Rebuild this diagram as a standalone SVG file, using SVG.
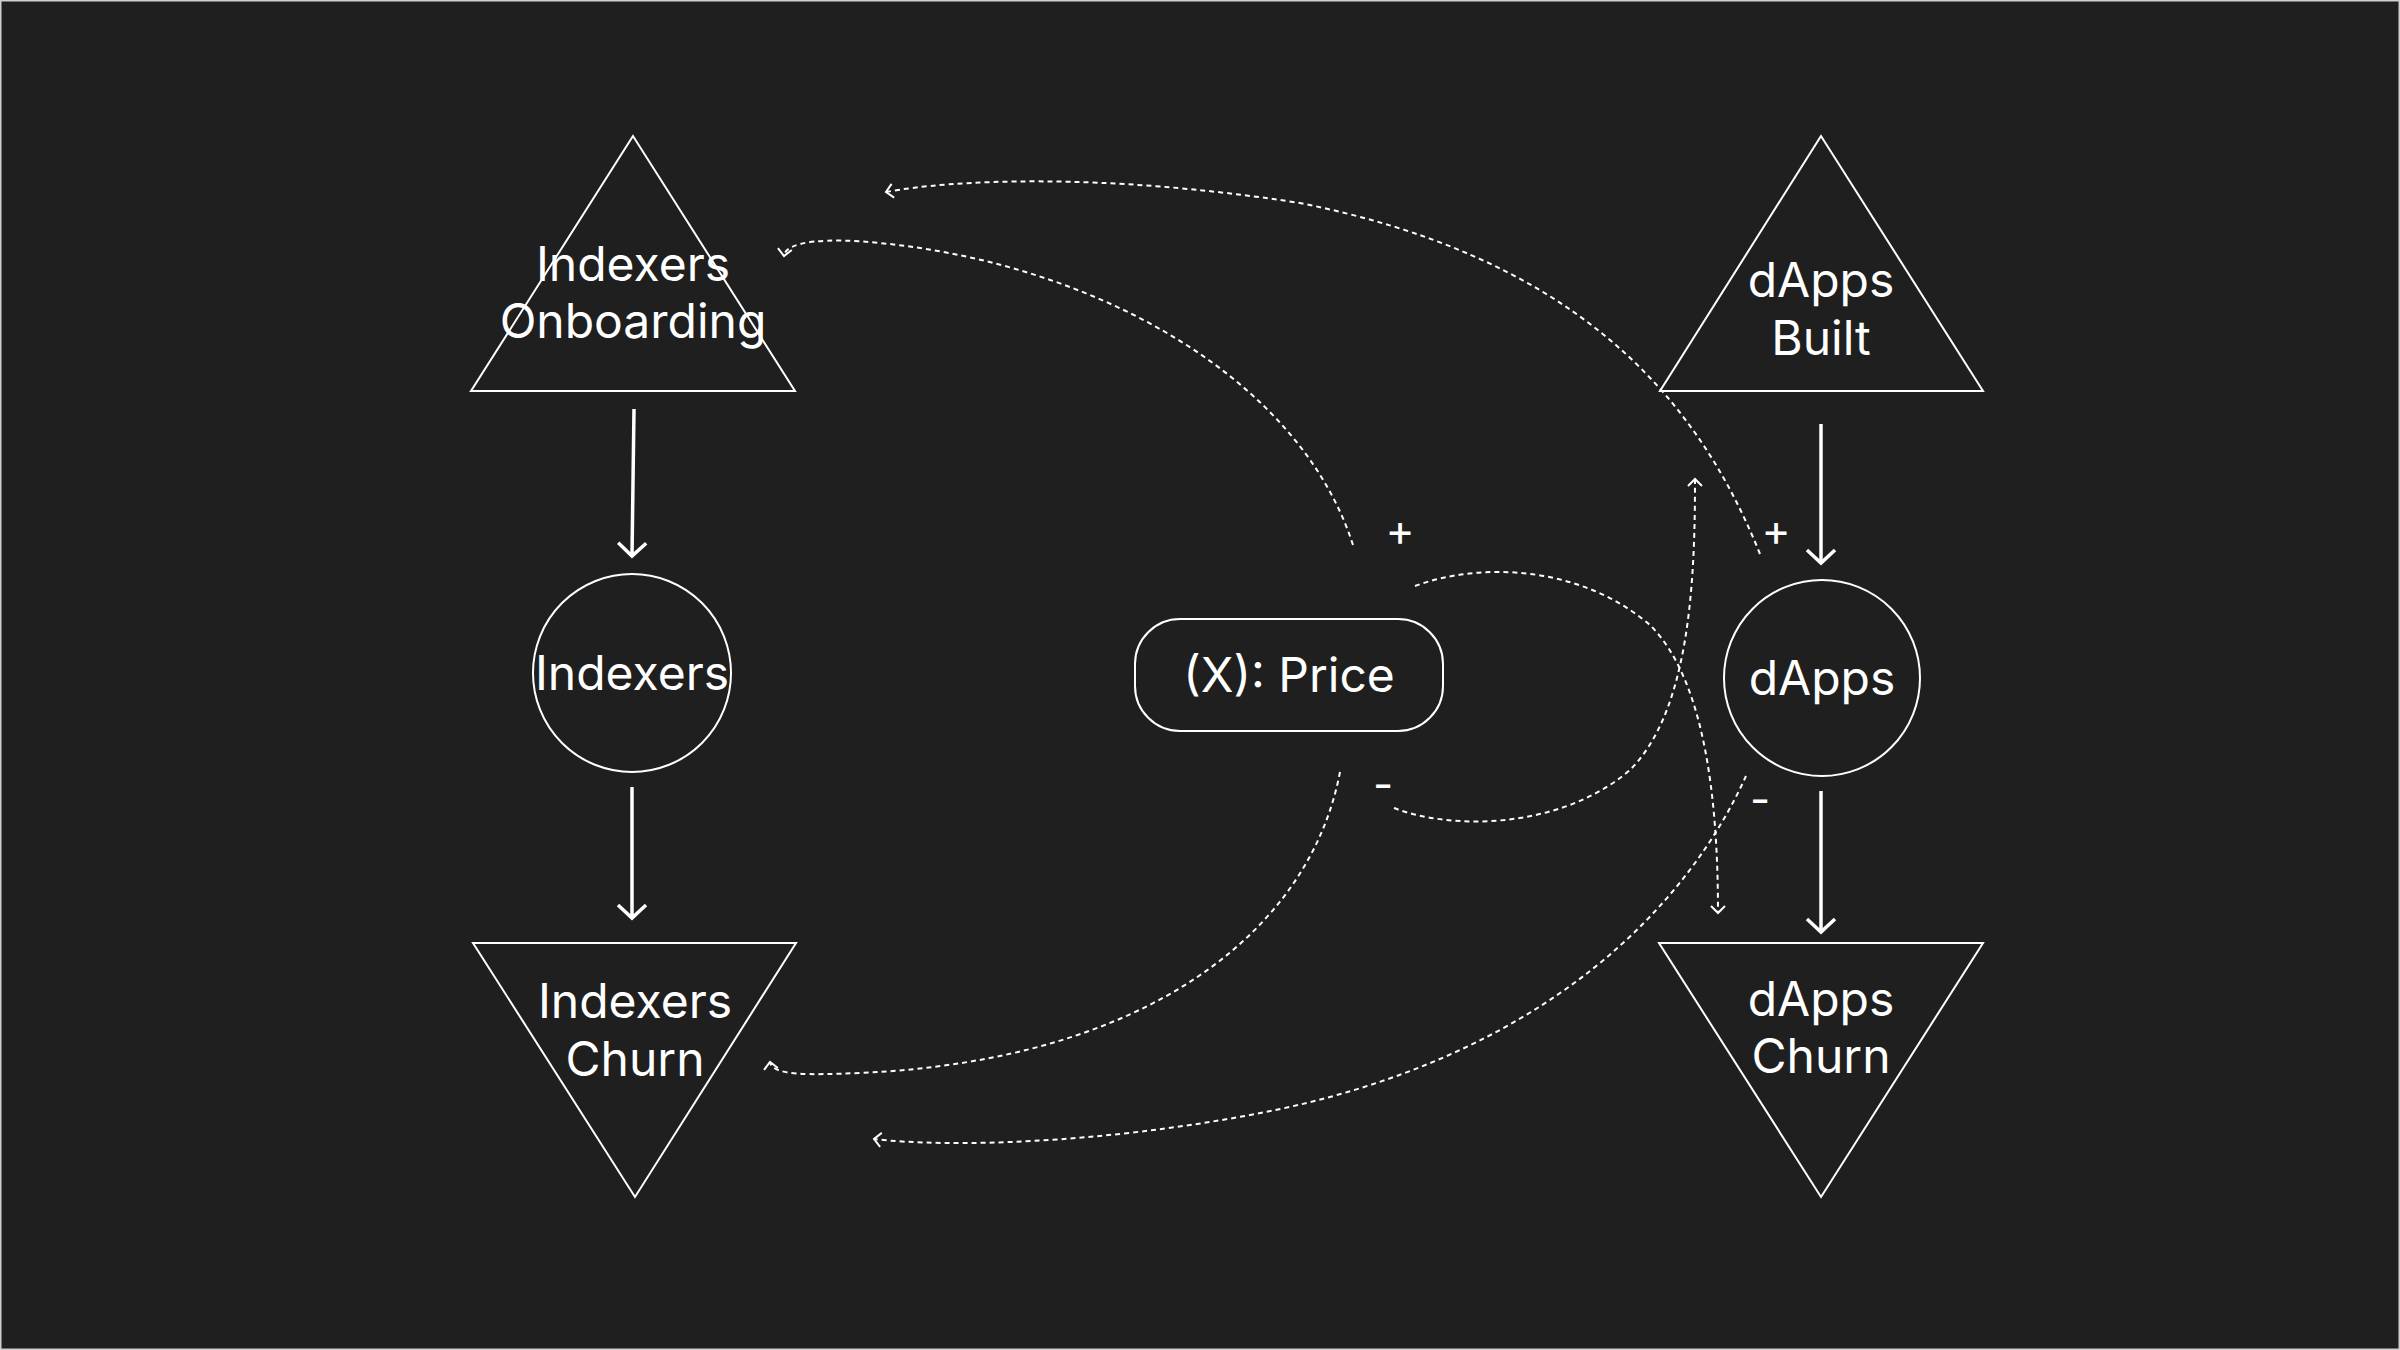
<svg xmlns="http://www.w3.org/2000/svg" width="2400" height="1350" viewBox="0 0 2400 1350">
  <defs>
    <style>
      .shape { fill: none; stroke: #ffffff; stroke-width: 2; }
      .label { font-family: Inter, "Liberation Sans", sans-serif; font-size: 48px; fill: #ffffff; text-anchor: middle; }
      .sign { font-family: Inter, "Liberation Sans", sans-serif; font-size: 44px; fill: #ffffff; text-anchor: middle; }
      .flow { fill: none; stroke: #ffffff; stroke-width: 3.5; marker-end: url(#solidHead); }
      .link { fill: none; stroke: #ffffff; stroke-width: 2; stroke-dasharray: 5 4; marker-end: url(#dashHead); }
    </style>
    <marker id="solidHead" markerUnits="userSpaceOnUse" orient="auto" refX="0" refY="0" markerWidth="40" markerHeight="40" viewBox="-20 -20 40 40" overflow="visible">
      <path d="M -13 -14 L 0 0 L -13 14" fill="none" stroke="#ffffff" stroke-width="3.5"/>
    </marker>
    <marker id="dashHead" markerUnits="userSpaceOnUse" orient="auto" refX="0" refY="0" markerWidth="20" markerHeight="20" viewBox="-10 -10 20 20" overflow="visible">
      <path d="M -7 -7 L 0 0 L -7 7" fill="none" stroke="#ffffff" stroke-width="2"/>
    </marker>
  </defs>

  <rect x="0" y="0" width="2400" height="1350" fill="#1f1f1f"/>
  <rect x="0.75" y="0.75" width="2398.5" height="1348.5" fill="none" stroke="#cfcfcf" stroke-width="1.5"/>

  <g id="indexers-onboarding">
    <polygon class="shape" points="633,136 471,391 795,391"/>
    <text class="label" x="633" y="281">Indexers</text>
    <text class="label" x="633" y="338">Onboarding</text>
  </g>

  <g id="indexers">
    <circle class="shape" cx="632" cy="673" r="99"/>
    <text class="label" x="632" y="690">Indexers</text>
  </g>

  <g id="indexers-churn">
    <polygon class="shape" points="473,943 796,943 635,1197"/>
    <text class="label" x="635" y="1018">Indexers</text>
    <text class="label" x="635" y="1076">Churn</text>
  </g>

  <g id="dapps-built">
    <polygon class="shape" points="1821,136 1660,391 1983,391"/>
    <text class="label" x="1821" y="297">dApps</text>
    <text class="label" x="1821" y="355">Built</text>
  </g>

  <g id="dapps">
    <circle class="shape" cx="1822" cy="678" r="98"/>
    <text class="label" x="1822" y="695">dApps</text>
  </g>

  <g id="dapps-churn">
    <polygon class="shape" points="1659,943 1983,943 1821,1197"/>
    <text class="label" x="1821" y="1016">dApps</text>
    <text class="label" x="1821" y="1073">Churn</text>
  </g>

  <g id="price">
    <rect class="shape" x="1135" y="619" width="308" height="112" rx="45" ry="45"/>
    <text class="label" x="1289" y="692">(X): Price</text>
  </g>

  <g id="connectors">
    <path class="flow" d="M 634 409 L 632 556"/>
    <path class="flow" d="M 632 787 L 632 918"/>
    <path class="flow" d="M 1821 424 L 1821 563"/>
    <path class="flow" d="M 1821 791 L 1821 932"/>

    <path class="link" d="M 1353 545 C 1300 380 1100 265 880 243 C 830 238 786 240 784 256"/>
    <path class="link" d="M 1760 554 C 1690 380 1560 255 1300 203 C 1100 172 950 180 886 192"/>
    <path class="link" d="M 1415 586 C 1480 562 1580 565 1650 625 C 1705 680 1718 800 1718 913"/>
    <path class="link" d="M 1394 808 C 1450 830 1560 830 1630 770 C 1690 710 1695 580 1695 479"/>
    <path class="link" d="M 1340 772 C 1310 930 1150 1060 860 1073 C 810 1075 772 1076 770 1062"/>
    <path class="link" d="M 1746 776 C 1690 900 1550 1060 1250 1115 C 1100 1143 950 1148 874 1139"/>

    <text class="sign" x="1400" y="546">+</text>
    <text class="sign" x="1383" y="800">-</text>
    <text class="sign" x="1776" y="546">+</text>
    <text class="sign" x="1760" y="815">-</text>
  </g>
</svg>
